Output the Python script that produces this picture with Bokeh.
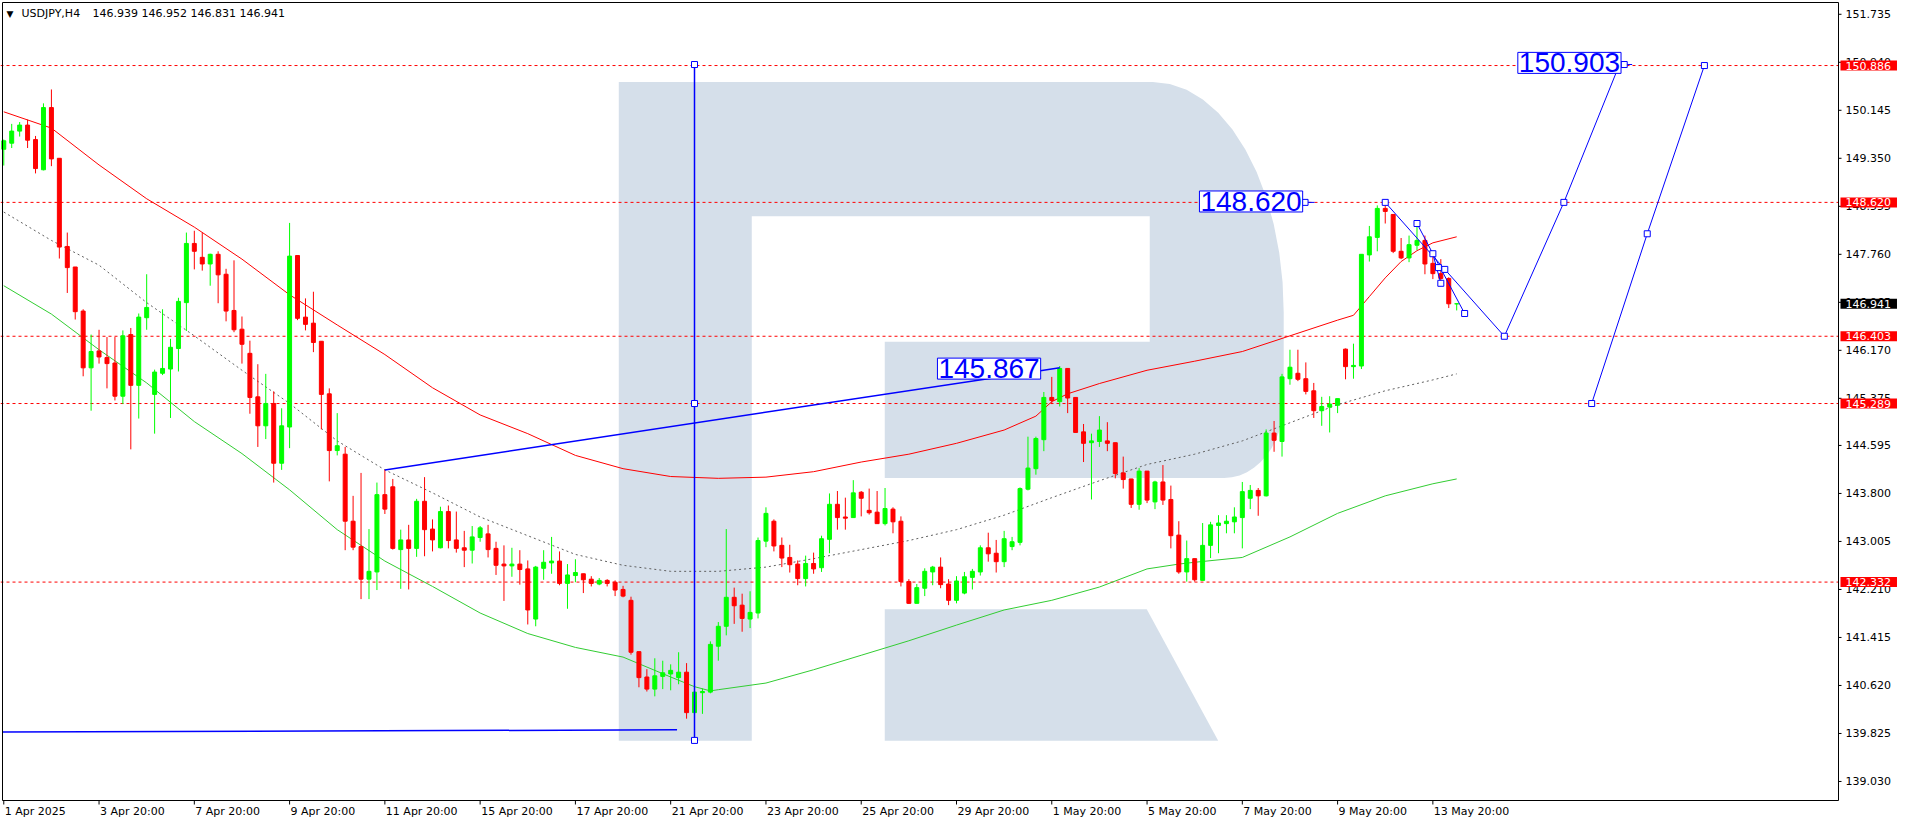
import math
from bokeh.plotting import figure
from bokeh.models import Range1d, Label
from bokeh.embed import file_html
from bokeh.resources import INLINE
from bokeh.core.properties import value

# ---------------- data (USDJPY H4) ----------------
opens = [149.50,149.60,149.80,149.90,149.66,149.16,150.19,149.35,147.89,147.55,
         146.82,145.88,146.16,146.05,145.96,145.41,146.43,145.59,146.71,145.44,
         145.79,145.86,146.20,146.96,147.94,147.71,147.60,147.76,147.43,146.83,
         146.52,146.12,145.40,144.92,145.29,144.30,144.90,147.74,146.72,146.62,
         146.32,145.45,144.51,144.45,143.34,142.92,142.38,142.50,143.78,143.91,
         142.87,143.03,142.89,143.67,143.21,142.90,143.50,143.03,142.90,142.86,
         143.07,143.13,142.89,142.63,142.60,142.63,142.55,141.72,142.56,142.65,
         142.68,142.31,142.44,142.47,142.38,142.30,142.36,142.33,142.21,142.03,
         141.18,140.76,140.56,140.77,140.81,140.75,140.84,140.17,140.50,140.51,
         141.27,141.60,142.08,141.95,141.72,141.82,143.01,143.34,142.94,142.74,
         142.63,142.39,142.64,142.57,143.04,143.62,143.41,143.40,143.82,143.52,
         143.49,143.30,143.54,143.34,142.34,141.98,142.23,142.50,142.58,142.30,
         142.03,142.15,142.41,142.50,142.90,142.81,142.67,142.92,142.99,143.87,
         144.21,144.69,145.39,145.32,145.87,145.39,144.82,144.64,144.66,144.67,
         144.64,144.14,144.04,143.62,144.17,143.66,143.99,143.70,143.11,142.50,
         142.72,142.36,142.94,143.27,143.30,143.33,143.40,143.72,143.85,143.76,
         144.80,144.66,145.70,145.79,145.70,145.50,145.17,145.23,145.26,146.19,
         145.90,145.91,147.75,148.04,148.52,148.42,147.81,147.70,147.91,147.99,
         147.61,147.44,147.36,146.939]
highs = [149.66,149.92,149.95,149.99,149.72,150.26,150.49,149.35,148.12,147.55,
         146.85,146.43,146.51,146.39,146.39,146.50,146.54,146.78,147.43,145.85,
         146.85,146.36,147.04,148.12,148.15,148.12,147.77,147.81,147.52,147.66,
         146.73,146.33,145.94,145.78,145.49,145.21,148.28,147.74,147.03,147.14,
         146.32,145.54,145.13,144.57,143.76,144.14,143.21,143.98,144.19,144.04,
         143.20,143.28,143.71,144.07,143.37,143.58,143.60,143.50,143.18,143.26,
         143.26,143.28,143.00,142.94,142.90,142.86,142.69,142.60,142.86,143.08,
         142.84,142.63,142.71,142.47,142.43,142.40,142.38,142.36,142.27,142.09,
         141.18,140.89,141.07,141.03,140.97,141.17,140.99,140.51,140.57,141.35,
         141.67,143.21,142.24,142.14,142.18,143.07,143.57,143.37,143.07,142.95,
         142.69,142.77,142.82,143.10,143.80,143.84,143.73,144.02,143.84,143.88,
         143.84,143.89,143.57,143.42,142.38,142.30,142.56,142.60,142.74,142.38,
         142.43,142.50,142.55,142.94,143.15,143.03,143.18,143.08,143.90,144.74,
         144.74,145.48,145.73,145.91,145.87,145.39,144.95,144.79,145.08,144.98,
         144.64,144.41,144.04,144.22,144.17,144.01,144.27,143.93,143.34,143.02,
         142.72,143.31,143.33,143.44,143.44,143.57,143.99,143.94,143.89,144.86,
         145.00,145.78,146.18,146.18,145.97,145.63,145.40,145.41,145.37,146.20,
         146.28,147.76,148.23,148.57,148.62,148.42,148.03,148.07,148.31,148.07,
         147.74,147.68,147.38,146.952]
lows = [149.23,149.52,149.71,149.52,149.10,149.15,149.22,147.69,147.12,146.68,
        145.74,145.17,145.95,145.54,145.34,145.28,144.53,145.04,146.51,144.79,
        145.76,145.05,145.82,146.49,147.51,147.49,147.24,146.95,146.65,146.47,
        145.95,145.12,144.57,144.70,143.98,144.19,144.55,146.67,146.50,146.14,
        144.86,144.00,144.43,142.86,142.86,142.05,142.05,142.20,143.46,142.87,
        142.22,142.21,142.75,142.76,142.84,142.89,142.89,142.82,142.58,142.64,
        143.00,142.74,142.45,142.02,142.42,142.29,141.63,141.60,142.37,142.47,
        142.28,141.89,142.33,142.15,142.26,142.28,142.26,142.10,142.08,141.13,
        140.59,140.52,140.44,140.56,140.54,140.64,140.07,139.90,140.15,140.49,
        141.03,141.45,141.64,141.51,141.57,141.73,142.91,142.84,142.58,142.49,
        142.28,142.26,142.47,142.50,142.81,143.20,143.20,143.40,143.42,143.45,
        143.30,143.27,143.14,142.26,141.97,141.98,142.10,142.28,142.23,141.95,
        141.98,142.13,142.21,142.44,142.67,142.49,142.58,142.86,142.94,143.85,
        144.11,144.50,145.28,145.24,145.13,144.81,144.32,143.70,144.57,144.50,
        144.05,143.88,143.56,143.53,143.64,143.54,143.61,142.89,142.47,142.34,
        142.34,142.36,142.73,142.81,143.14,143.14,142.89,143.54,143.43,143.75,
        144.49,144.41,145.60,145.66,145.44,145.05,144.92,144.81,145.13,145.69,
        145.70,145.86,147.64,147.81,148.27,147.78,147.68,147.63,147.83,147.43,
        147.35,147.28,146.87,146.831]
closes = [149.64,149.80,149.90,149.65,149.18,150.19,149.34,147.88,147.54,146.81,
          145.88,146.15,146.06,145.95,145.41,146.41,145.59,146.72,146.88,145.81,
          145.87,146.22,146.98,147.94,147.81,147.60,147.76,147.42,146.82,146.51,
          146.27,145.39,144.92,145.29,144.30,144.92,147.73,146.70,146.60,146.30,
          145.44,144.51,144.59,143.34,142.91,142.38,142.51,143.78,143.54,142.89,
          143.03,142.89,143.67,143.20,143.03,143.50,143.02,142.89,142.86,143.08,
          143.23,142.87,142.61,142.60,142.63,142.54,141.87,142.58,142.66,142.68,
          142.31,142.45,142.49,142.37,142.31,142.36,142.31,142.20,142.10,141.17,
          140.75,140.56,140.78,140.83,140.87,140.84,140.17,140.51,140.52,141.30,
          141.60,142.08,141.94,141.73,141.83,143.02,143.47,142.93,142.73,142.62,
          142.39,142.64,142.55,143.05,143.62,143.40,143.39,143.81,143.72,143.48,
          143.30,143.55,143.33,142.34,141.98,142.24,142.51,142.58,142.29,142.03,
          142.35,142.42,142.51,142.90,142.80,142.67,143.05,143.00,143.88,144.22,
          144.71,145.39,145.34,145.87,145.38,144.81,144.63,144.67,144.85,144.63,
          144.13,144.03,143.62,144.17,143.69,143.99,143.69,143.10,142.50,142.72,
          142.37,142.94,143.28,143.31,143.34,143.41,143.83,143.85,143.76,144.80,
          144.68,145.73,145.89,145.69,145.49,145.17,145.24,145.28,145.37,145.90,
          145.92,147.76,148.05,148.52,148.47,147.81,147.70,147.92,147.99,147.60,
          147.44,147.36,146.94,146.941]

# moving averages (bar index -> value)
red_ma_x = [0,6,12,18,24,30,36,42,48,54,60,66,72,78,84,90,96,102,108,114,120,126,
            130,132,134,138,144,150,156,162,168,170,172,174,176,178,180,183]
red_ma = [150.12,149.85,149.24,148.68,148.21,147.68,147.09,146.59,146.10,145.55,
          145.10,144.79,144.43,144.21,144.08,144.05,144.07,144.16,144.32,144.45,
          144.63,144.85,145.08,145.32,145.45,145.62,145.84,145.99,146.15,146.41,
          146.67,146.75,147.06,147.37,147.64,147.82,147.95,148.05]
grey_ma_x = [0,6,12,18,24,30,36,42,48,54,60,66,72,78,84,90,96,102,108,114,120,126,
             132,138,144,150,156,162,168,174,180,183]
grey_ma = [148.46,147.99,147.58,146.96,146.41,145.84,145.29,144.67,144.19,143.81,
           143.41,143.10,142.79,142.61,142.51,142.51,142.58,142.72,142.87,143.02,
           143.20,143.44,143.73,144.01,144.28,144.45,144.67,144.97,145.27,145.50,
           145.68,145.78]
green_ma_x = [0,6,12,18,24,30,36,42,48,54,60,66,72,78,84,87,89,90,96,102,108,114,
              120,126,132,138,144,148,150,156,162,168,174,180,183]
green_ma = [147.24,146.77,146.18,145.63,144.99,144.46,143.86,143.20,142.68,142.26,
            141.82,141.48,141.25,141.09,140.76,140.60,140.53,140.55,140.66,140.88,
            141.12,141.36,141.62,141.87,142.03,142.25,142.55,142.63,142.66,142.74,
            143.08,143.47,143.76,143.96,144.04]

# horizontal levels and drawn objects
levels = [150.886, 148.620, 146.403, 145.289, 142.332]
level_labels = ["150.886", "148.620", "146.403", "145.289", "142.332"]
last_price = 146.941
last_label = "146.941"

trend_x = [48, 133];            trend_y = [144.19, 145.88]
vert_x = [87, 87, 87];          vert_y = [150.903, 145.289, 139.71]
base_x = [-0.16, 84.8];         base_y = [139.85, 139.885]
proj1_x = [174, 189, 196.5, 203.5]; proj1_y = [148.620, 146.403, 148.620, 150.903]
proj2_x = [200, 207, 214.2];    proj2_y = [145.289, 148.10, 150.886]
projb_x = [178, 180, 184];      projb_y = [148.27, 147.77, 146.78]
projc_x = [180, 181];           projc_y = [147.77, 147.28]
extra_pts_x = [180.7, 181.5];   extra_pts_y = [147.54, 147.51]
boxes = [("145.867", 130.6, 145.867), ("148.620", 163.6, 148.635), ("150.903", 203.7, 150.93)]

tick_pos = [0, 12, 24, 36, 48, 60, 72, 84, 96, 108, 120, 132, 144, 156, 168, 180]
tick_labels = ["1 Apr 2025", "3 Apr 20:00", "7 Apr 20:00", "9 Apr 20:00", "11 Apr 20:00",
               "15 Apr 20:00", "17 Apr 20:00", "21 Apr 20:00", "23 Apr 20:00", "25 Apr 20:00",
               "29 Apr 20:00", "1 May 20:00", "5 May 20:00", "7 May 20:00", "9 May 20:00",
               "13 May 20:00"]
y_ticks = [151.735, 150.940, 150.145, 149.350, 148.555, 147.760, 146.965, 146.170,
           145.375, 144.595, 143.800, 143.005, 142.210, 141.415, 140.620, 139.825, 139.030]
y_tick_labels = ["151.735", "150.940", "150.145", "149.350", "148.555", "147.760", "146.965",
                 "146.170", "145.375", "144.595", "143.800", "143.005", "142.210", "141.415",
                 "140.620", "139.825", "139.030"]

# ---------------- layout (chart box + price/time scales inside one canvas) ----------------
W, H = 1900, 824
PLOT_L, PLOT_R, PLOT_T, PLOT_B = 2, 1838, 2, 800          # chart box in canvas px
XL, XR = -0.16, 231.09                                    # bar index at chart box edges
YB, YT = 138.715, 151.93                                  # price at chart box edges
ppx = (PLOT_R - PLOT_L) / (XR - XL)
ppy = (PLOT_B - PLOT_T) / (YT - YB)
x0 = XL - PLOT_L / ppx
x1 = XR + (W - PLOT_R) / ppx
y1 = YT + PLOT_T / ppy
y0 = YB - (H - PLOT_B) / ppy
FONT = "DejaVu Sans"

p = figure(width=W, height=H, x_range=Range1d(x0, x1), y_range=Range1d(y0, y1),
           output_backend="svg", toolbar_location=None,
           x_axis_location=None, y_axis_location=None,
           min_border=0, min_border_left=0, min_border_right=0, min_border_top=0,
           min_border_bottom=0)
p.grid.visible = False
p.outline_line_color = None
p.background_fill_color = "white"
p.border_fill_color = "white"

# watermark logo (decoration), described in reference pixels
def _k(px):
    return (px - 3.3) / 8.0
def _p(py):
    return 151.735 - (py - 14) / 61.6

logo_px = [(623, 83), (1161, 83)]
for i in range(1, 13):
    a = math.pi / 2 - i * (math.pi / 2) / 12
    logo_px.append((1161 + 132 * math.cos(a), 318 - 235 * math.sin(a)))
for i in range(0, 13):
    a = -i * (math.pi / 2) / 12
    logo_px.append((1233 + 60 * math.cos(a), 410 - 77 * math.sin(a)))
logo_px += [(891, 487), (891, 348), (1158, 348), (1158, 220), (757, 220), (757, 755), (623, 755)]
p.patch([_k(a) for a, b in logo_px], [_p(b) for a, b in logo_px],
        fill_color="#d5dfea", line_color=None)
leg_px = [(891, 621), (1155, 621), (1227, 755), (891, 755)]
p.patch([_k(a) for a, b in leg_px], [_p(b) for a, b in leg_px],
        fill_color="#d5dfea", line_color=None)

# level lines
p.segment(x0=[x0] * len(levels), x1=[XR] * len(levels), y0=levels, y1=levels,
          line_color="#ff0000", line_dash="3 3", line_width=1)

# moving averages
p.line(red_ma_x, red_ma, line_color="#ff0000", line_width=1)
p.line(grey_ma_x, grey_ma, line_color="#606060", line_width=1, line_dash="2 3")
p.line(green_ma_x, green_ma, line_color="#32cd32", line_width=1)

# candles
idx = list(range(len(closes)))
cols = ["#00ff00" if c >= o else "#ff0000" for o, c in zip(opens, closes)]
tops = [max(o, c) for o, c in zip(opens, closes)]
bots = [min(o, c) for o, c in zip(opens, closes)]
p.segment(x0=idx, y0=lows, x1=idx, y1=highs, line_color=cols, line_width=1)
p.vbar(x=idx, top=tops, bottom=bots, width=0.5, fill_color=cols, line_color=cols, line_width=1)

# blue drawings
BLUE = "#0000ff"
p.line(trend_x, trend_y, line_color=BLUE, line_width=1.5)
p.line(vert_x, vert_y, line_color=BLUE, line_width=1.5)
p.line(base_x, base_y, line_color=BLUE, line_width=1.5)
for xs, ys in [(proj1_x, proj1_y), (proj2_x, proj2_y), (projb_x, projb_y), (projc_x, projc_y)]:
    p.line(xs, ys, line_color=BLUE, line_width=1)
p.segment(x0=[163.7, 203.8], x1=[165.1, 205.1], y0=[148.62, 150.903], y1=[148.62, 150.903],
          line_color=BLUE, line_width=1)
mk_x = vert_x + proj1_x + proj2_x + projb_x + projc_x[1:] + extra_pts_x + [163.9, 204.1]
mk_y = vert_y + proj1_y + proj2_y + projb_y + projc_y[1:] + extra_pts_y + [148.62, 150.903]
p.scatter(mk_x, mk_y, marker="square", size=6, line_color=BLUE, fill_color="white", line_width=1)

for txt, xr, yv in boxes:
    p.add_layout(Label(x=xr, y=yv, text=txt, text_align="right", text_baseline="middle",
                       text_font="Liberation Sans", text_font_size="28px", text_color=BLUE,
                       background_fill_color="white", border_line_color=BLUE,
                       border_line_width=1, padding=1))

# chart box
p.quad(left=[XL], right=[XR], bottom=[YB], top=[YT], fill_color=None,
       line_color="black", line_width=1)

# price scale (right)
p.segment(x0=[XR] * len(y_ticks), x1=[XR + 3 / ppx] * len(y_ticks), y0=y_ticks, y1=y_ticks,
          line_color="black", line_width=1)
p.text(x=[XR] * len(y_ticks), y=y_ticks, text=y_tick_labels, x_offset=7,
       text_baseline="middle", text_align="left", text_font=value(FONT),
       text_font_size="11px", text_color="black", level="underlay")

# time scale (bottom)
p.segment(x0=tick_pos, x1=tick_pos, y0=[YB] * len(tick_pos), y1=[YB - 4 / ppy] * len(tick_pos),
          line_color="black", line_width=1)
p.text(x=tick_pos, y=[YB] * len(tick_pos), text=tick_labels, x_offset=1, y_offset=11,
       text_baseline="middle", text_align="left", text_font=value(FONT),
       text_font_size="11px", text_color="black")

# price boxes on the right scale
box_pad = dict(left=5, right=6, top=1, bottom=1)
for lv, lbl in zip(levels, level_labels):
    p.add_layout(Label(x=XR, y=lv, x_offset=2, text=lbl, text_align="left",
                       text_baseline="middle", text_font=FONT, text_font_size="11px",
                       text_color="white", background_fill_color="#ff0000",
                       padding=box_pad, level="overlay"))
p.add_layout(Label(x=XR, y=last_price, x_offset=2, text=last_label, text_align="left",
                   text_baseline="middle", text_font=FONT, text_font_size="11px",
                   text_color="white", background_fill_color="black", padding=box_pad,
                   level="overlay"))

# header
p.add_layout(Label(x=XL, y=YT, x_offset=4, y_offset=-11, text="▼", text_align="left",
                   text_baseline="middle", text_font=FONT, text_font_size="9px",
                   text_color="black"))
p.add_layout(Label(x=XL, y=YT, x_offset=19, y_offset=-11, text="USDJPY,H4",
                   text_align="left", text_baseline="middle", text_font=FONT,
                   text_font_size="11px", text_color="black"))
p.add_layout(Label(x=XL, y=YT, x_offset=90, y_offset=-11,
                   text="146.939 146.952 146.831 146.941", text_align="left",
                   text_baseline="middle", text_font=FONT, text_font_size="11px",
                   text_color="black"))

open("out.html", "w").write(file_html(p, INLINE))
